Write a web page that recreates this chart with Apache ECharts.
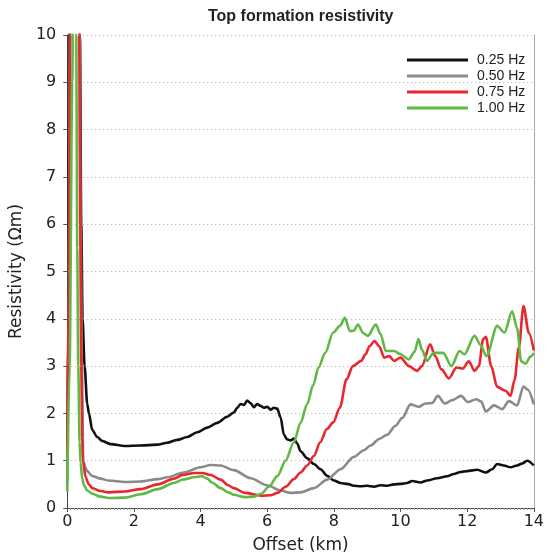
<!DOCTYPE html>
<html>
<head>
<meta charset="utf-8">
<script src="https://cdn.jsdelivr.net/npm/echarts@6/dist/echarts.min.js"></script>
<style>html,body{margin:0;padding:0;background:#fff;}#chart{width:547px;height:559px;}</style>
</head>
<body>
<div id="chart"></div>
<script>
// ---- Data ----
const seriesNames = ['0.25 Hz', '0.50 Hz', '0.75 Hz', '1.00 Hz'];
const xTicks = [0, 2, 4, 6, 8, 10, 12, 14];
const yTicks = [0, 1, 2, 3, 4, 5, 6, 7, 8, 9, 10];

const offsets025 = [0, 0.03, 0.06, 0.09, 0.35, 0.38, 0.42, 0.46, 0.52, 0.6, 0.65, 0.75, 0.9, 1.04, 1.3, 1.73, 2.2, 2.7, 3.0, 3.3, 3.6, 3.9, 4.2, 4.5, 4.8, 5.0, 5.1, 5.2, 5.3, 5.4, 5.5, 5.6, 5.7, 5.8, 5.9, 6.0, 6.1, 6.2, 6.3, 6.4, 6.5, 6.6, 6.7, 6.8, 6.9, 7.0, 7.2, 7.4, 7.6, 7.8, 8.0, 8.2, 8.4, 8.6, 8.8, 9.0, 9.2, 9.4, 9.6, 9.8, 10.0, 10.2, 10.35, 10.6, 10.8, 11.1, 11.4, 11.6, 11.8, 12.0, 12.3, 12.56, 12.75, 12.9, 13.1, 13.3, 13.5, 13.65, 13.8, 14.0];
const res025 = [0.9, 4, 10, 13, 13, 10, 6, 4, 3, 2.2, 2.0, 1.65, 1.5, 1.42, 1.35, 1.31, 1.32, 1.34, 1.38, 1.44, 1.5, 1.6, 1.7, 1.8, 1.93, 2.02, 2.12, 2.2, 2.18, 2.27, 2.22, 2.13, 2.2, 2.16, 2.12, 2.14, 2.08, 2.12, 2.1, 1.92, 1.55, 1.45, 1.43, 1.47, 1.36, 1.2, 1.05, 0.93, 0.82, 0.68, 0.58, 0.53, 0.51, 0.47, 0.46, 0.47, 0.45, 0.48, 0.47, 0.5, 0.51, 0.53, 0.57, 0.54, 0.58, 0.63, 0.67, 0.72, 0.76, 0.78, 0.81, 0.75, 0.82, 0.93, 0.9, 0.86, 0.9, 0.94, 1.0, 0.9];

const offsets050 = [0, 0.04, 0.08, 0.11, 0.34, 0.37, 0.4, 0.44, 0.48, 0.54, 0.6, 0.74, 1.0, 1.24, 1.73, 2.2, 2.72, 3.0, 3.5, 4.0, 4.3, 4.6, 5.0, 5.5, 6.0, 6.4, 6.7, 7.0, 7.4, 7.8, 8.2, 8.6, 8.9, 9.1, 9.36, 9.6, 9.85, 10.05, 10.3, 10.55, 10.75, 10.95, 11.12, 11.33, 11.55, 11.82, 12.02, 12.27, 12.42, 12.56, 12.81, 13.05, 13.25, 13.5, 13.69, 13.82, 14.0];
const res050 = [0.5, 4, 10, 13, 13, 10, 6, 3, 1.0, 0.86, 0.78, 0.68, 0.62, 0.58, 0.55, 0.56, 0.61, 0.65, 0.75, 0.86, 0.91, 0.9, 0.8, 0.63, 0.48, 0.37, 0.32, 0.33, 0.42, 0.6, 0.82, 1.08, 1.22, 1.32, 1.46, 1.55, 1.74, 1.9, 2.19, 2.14, 2.21, 2.22, 2.37, 2.21, 2.28, 2.37, 2.24, 2.3, 2.25, 2.04, 2.17, 2.09, 2.26, 2.17, 2.57, 2.5, 2.19];

const offsets075 = [0, 0.05, 0.09, 0.12, 0.33, 0.36, 0.39, 0.42, 0.45, 0.47, 0.55, 0.65, 0.75, 1.0, 1.24, 1.73, 2.2, 2.72, 3.2, 3.46, 3.8, 4.05, 4.3, 4.6, 4.83, 5.0, 5.33, 5.82, 6.1, 6.31, 6.55, 6.8, 7.0, 7.2, 7.4, 7.59, 7.79, 7.98, 8.18, 8.38, 8.57, 8.82, 8.95, 9.07, 9.22, 9.36, 9.51, 9.66, 9.81, 10.0, 10.25, 10.5, 10.64, 10.89, 11.04, 11.23, 11.45, 11.68, 11.87, 12.05, 12.22, 12.35, 12.48, 12.56, 12.72, 12.9, 13.15, 13.3, 13.42, 13.55, 13.69, 13.85, 14.0];
const res075 = [1.2, 5, 10, 13, 13, 10, 6, 3, 1.5, 1.0, 0.65, 0.5, 0.42, 0.36, 0.33, 0.35, 0.4, 0.5, 0.62, 0.7, 0.74, 0.74, 0.7, 0.6, 0.48, 0.42, 0.32, 0.26, 0.27, 0.32, 0.45, 0.61, 0.75, 0.9, 1.1, 1.39, 1.67, 1.81, 2.12, 2.72, 3.0, 3.11, 3.25, 3.42, 3.53, 3.42, 3.18, 3.21, 3.11, 3.18, 3.0, 2.9, 3.0, 3.46, 3.21, 2.93, 2.74, 2.97, 2.95, 3.1, 2.9, 3.0, 3.57, 3.62, 3.0, 2.56, 2.48, 2.37, 2.7, 3.4, 4.27, 3.7, 3.33];

const offsets100 = [0, 0.07, 0.15, 0.19, 0.25, 0.27, 0.3, 0.33, 0.37, 0.4, 0.45, 0.5, 0.6, 0.75, 1.0, 1.24, 1.73, 2.2, 2.72, 3.2, 3.46, 3.8, 4.05, 4.2, 4.34, 4.6, 4.83, 5.0, 5.33, 5.6, 5.82, 6.05, 6.31, 6.55, 6.8, 7.0, 7.2, 7.38, 7.54, 7.74, 7.98, 8.18, 8.33, 8.48, 8.6, 8.72, 8.88, 9.02, 9.26, 9.4, 9.56, 9.81, 10.0, 10.25, 10.42, 10.54, 10.64, 10.79, 10.99, 11.28, 11.53, 11.77, 11.92, 12.22, 12.4, 12.58, 12.9, 13.12, 13.35, 13.5, 13.62, 13.75, 13.9, 14.0];
const res100 = [0.35, 3, 9, 13, 13, 10, 5.5, 3.0, 1.4, 0.95, 0.62, 0.48, 0.37, 0.3, 0.24, 0.21, 0.22, 0.29, 0.4, 0.53, 0.6, 0.65, 0.67, 0.62, 0.54, 0.42, 0.33, 0.28, 0.23, 0.24, 0.3, 0.45, 0.68, 1.0, 1.39, 1.8, 2.2, 2.6, 2.97, 3.28, 3.71, 3.85, 4.02, 3.74, 3.75, 3.88, 3.7, 3.64, 3.88, 3.68, 3.32, 3.32, 3.25, 3.14, 3.3, 3.57, 3.35, 3.11, 3.28, 3.28, 3.0, 3.32, 3.25, 3.64, 3.45, 3.21, 3.85, 3.71, 4.16, 3.8, 3.1, 3.05, 3.2, 3.28];

const colors = ['#111111', '#8a8a8a', '#e8262b', '#62b845'];

function zip(xs, ys) { return xs.map((x, i) => [x, ys[i]]); }
const seriesData = [zip(offsets025, res025), zip(offsets050, res050), zip(offsets075, res075), zip(offsets100, res100)];

const chart = echarts.init(document.getElementById('chart'), null, {renderer: 'canvas'});
chart.setOption({
  animation: false,
  backgroundColor: '#ffffff',
  title: {
    text: 'Top formation resistivity',
    left: 203, top: 4,
    textStyle: {fontFamily: 'Liberation Sans', fontSize: 16, fontWeight: 'bold', color: '#222'}
  },
  legend: {
    data: seriesNames,
    orient: 'vertical',
    left: 407, top: 52,
    padding: 0,
    icon: 'rect',
    itemWidth: 61, itemHeight: 3,
    itemGap: 0,
    textStyle: {fontFamily: 'Liberation Sans', fontSize: 14, color: '#222', lineHeight: 16, padding: [0, 0, 0, 4]}
  },
  grid: {left: 63, right: 10, top: 35, bottom: 50, containLabel: false},
  xAxis: {
    type: 'value', min: xTicks[0], max: xTicks[xTicks.length - 1], interval: 2,
    name: 'Offset (km)', nameLocation: 'middle', nameGap: 29,
    nameTextStyle: {fontFamily: 'DejaVu Sans', fontSize: 17, color: '#222'},
    axisLine: {show: true, lineStyle: {color: '#444', width: 1}},
    axisTick: {show: true, length: 4, lineStyle: {color: '#555'}},
    minorTick: {show: true, splitNumber: 20, length: 2, lineStyle: {color: '#999'}},
    splitLine: {show: false},
    axisLabel: {fontFamily: 'DejaVu Sans', fontSize: 16, color: '#222', margin: 6}
  },
  yAxis: [{
    type: 'value', min: yTicks[0], max: yTicks[yTicks.length - 1], interval: 1,
    name: 'Resistivity (Ωm)', nameLocation: 'middle', nameGap: 38, nameRotate: 90,
    nameTextStyle: {fontFamily: 'DejaVu Sans', fontSize: 17, color: '#222'},
    axisLine: {show: true, lineStyle: {color: '#444', width: 1}},
    axisTick: {show: true, length: 4, lineStyle: {color: '#555'}},
    splitLine: {show: true, lineStyle: {color: '#aaa', type: [1, 3], width: 1}},
    axisLabel: {fontFamily: 'DejaVu Sans', fontSize: 16, color: '#222', margin: 11}
  }, {
    type: 'value', min: 0, max: 10, interval: 1, position: 'right',
    axisLine: {show: true, lineStyle: {color: '#aaa', width: 1}},
    axisTick: {show: false}, axisLabel: {show: false}, splitLine: {show: false}
  }],
  series: seriesNames.map((name, i) => ({
    name: name,
    type: 'line',
    data: seriesData[i],
    showSymbol: false,
    symbol: 'none',
    smooth: 0.3,
    smoothMonotone: 'x',
    clip: true,
    lineStyle: {color: colors[i], width: 2.6},
    itemStyle: {color: colors[i]},
    z: 2 + i
  }))
});
</script>
</body>
</html>
